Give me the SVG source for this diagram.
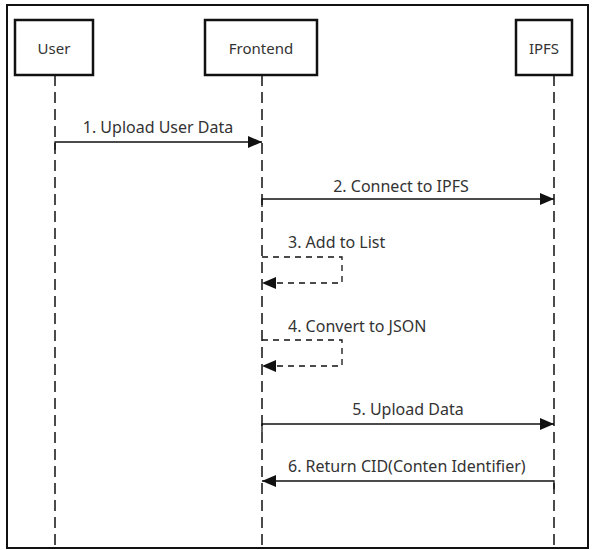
<svg xmlns="http://www.w3.org/2000/svg" width="595" height="550" viewBox="0 0 595 550">
<defs>
<style>
.frame{fill:#fff;stroke:#111;stroke-width:2}
.box{fill:#fff;stroke:#111;stroke-width:2.5}
.life{stroke:#111;stroke-width:1.5;stroke-dasharray:11 6;fill:none}
.msg{stroke:#111;stroke-width:1.3;fill:none}
.self{stroke:#111;stroke-width:1.3;fill:none;stroke-dasharray:6 5}
text{font-family:"Noto Sans","Open Sans","Liberation Sans",sans-serif;font-size:16px;fill:#333}
.c{text-anchor:middle}
.n{font-size:15px}
</style>
<marker id="ah" markerWidth="14" markerHeight="12" refX="14" refY="6" orient="auto" markerUnits="userSpaceOnUse">
<path d="M0,0 L14,6 L0,12 Z" fill="#111"/>
</marker>
</defs>
<rect class="frame" x="7" y="5" width="581" height="543"/>
<g id="connectors">
<line class="life" x1="55" y1="75" x2="55" y2="548"/>
<line class="life" x1="262" y1="75" x2="262" y2="548"/>
<line class="life" x1="554" y1="75" x2="554" y2="548"/>
<polyline class="msg" points="55,150 55,142 262,142" marker-end="url(#ah)"/>
<polyline class="msg" points="262,207 262,199 554,199" marker-end="url(#ah)"/>
<polyline class="self" points="262,257 342,257 342,283 262,283" marker-end="url(#ah)"/>
<polyline class="self" points="262,340 342,340 342,366 262,366" marker-end="url(#ah)"/>
<polyline class="msg" points="262,432 262,424 554,424" marker-end="url(#ah)"/>
<polyline class="msg" points="554,489 554,481 262,481" marker-end="url(#ah)"/>
<text class="c" x="158" y="133">1. Upload User Data</text>
<text class="c" x="401" y="192">2. Connect to IPFS</text>
<text x="288" y="248">3. Add to List</text>
<text x="288" y="332">4. Convert to JSON</text>
<text class="c" x="408" y="415">5. Upload Data</text>
<text x="288" y="472">6. Return CID(Conten Identifier)</text>
</g>
<g id="user"><rect class="box" x="15" y="20" width="78" height="55"/><text class="c n" x="54" y="54">User</text></g>
<g id="frontend"><rect class="box" x="205" y="20" width="112" height="55"/><text class="c n" x="261" y="54">Frontend</text></g>
<g id="ipfs"><rect class="box" x="516" y="20" width="56" height="55"/><text class="c n" x="544" y="54">IPFS</text></g>
</svg>
